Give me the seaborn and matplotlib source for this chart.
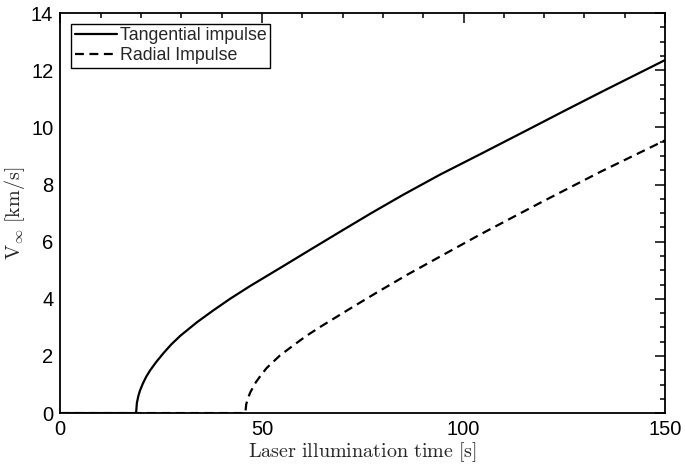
import numpy as np
import pandas as pd
import matplotlib
matplotlib.use('Agg')
import matplotlib.pyplot as plt
import seaborn as sns
from matplotlib.ticker import MultipleLocator

# values
t_tangential = [0, 18.8, 19.0, 19.4, 19.8, 20.5, 21.3, 22.3, 23.8, 25.6, 27.5, 29.8, 33.9, 38.0,
                42.1, 47.1, 55.0, 62.0, 70.0, 77.0, 85.0, 94.2, 104.1, 116.1, 125.0, 135.0, 150.0]
v_tangential = [0, 0, 0.36, 0.62, 0.80, 1.04, 1.27, 1.50, 1.79, 2.10, 2.40, 2.71, 3.18, 3.60,
                4.00, 4.45, 5.12, 5.72, 6.40, 6.99, 7.64, 8.35, 9.06, 9.93, 10.58, 11.30, 12.36]

t_radial = [0, 45.9, 46.1, 46.5, 47.1, 48.5, 50.0, 51.2, 54.5, 57.9, 61.0, 64.5, 71.9, 78.5,
            86.0, 94.2, 104.1, 119.0, 134.0, 150.0]
v_radial = [0, 0, 0.30, 0.50, 0.72, 1.08, 1.37, 1.58, 2.02, 2.38, 2.70, 3.02, 3.66, 4.22,
            4.84, 5.48, 6.25, 7.36, 8.45, 9.55]

series_names = ['Tangential impulse', 'Radial Impulse']

df = pd.concat([
    pd.DataFrame({'t': t_tangential, 'v': v_tangential, 'series': series_names[0]}),
    pd.DataFrame({'t': t_radial, 'v': v_radial, 'series': series_names[1]}),
])

sns.set_style('white')
plt.rcParams['font.family'] = ['Liberation Sans', 'DejaVu Sans']
plt.rcParams['mathtext.fontset'] = 'cm'

fig = plt.figure(figsize=(6.85, 4.71), dpi=100)
ax = fig.add_axes([0.088, 0.123, 0.883, 0.849])

sns.lineplot(data=df, x='t', y='v', hue='series', style='series',
             palette=['black', 'black'], dashes=[(None, None), (4, 2.5)],
             linewidth=1.6, ax=ax, sort=False)

ax.set_xlim(0, 150)
ax.set_ylim(0, 14)
ax.xaxis.set_major_locator(MultipleLocator(50))
ax.xaxis.set_minor_locator(MultipleLocator(10))
ax.yaxis.set_major_locator(MultipleLocator(2))
ax.yaxis.set_minor_locator(MultipleLocator(0.5))
ax.tick_params(which='both', direction='in', top=True, right=True, colors='black',
               labelsize=14.5, width=1.1)
ax.tick_params(which='major', length=7, pad=5)
ax.tick_params(which='minor', length=3.5)
for s in ax.spines.values():
    s.set_linewidth(1.3)
    s.set_color('black')

ax.set_xlabel(r'$\mathrm{Laser\ illumination\ time\ [s]}$', fontsize=14.5, labelpad=1)
ax.set_ylabel(r'$\mathrm{V}_{\infty}\ \mathrm{[km/s]}$', fontsize=14.5, labelpad=3)

leg = ax.legend(loc='upper left', fontsize=12.8, frameon=True, fancybox=False,
                handlelength=2.4, handletextpad=0.15, borderpad=0.2,
                labelspacing=0.15, borderaxespad=0.6)
leg.get_frame().set_edgecolor('black')
leg.get_frame().set_linewidth(1.0)
leg.get_frame().set_alpha(1)

fig.savefig('out.png', dpi=100)
